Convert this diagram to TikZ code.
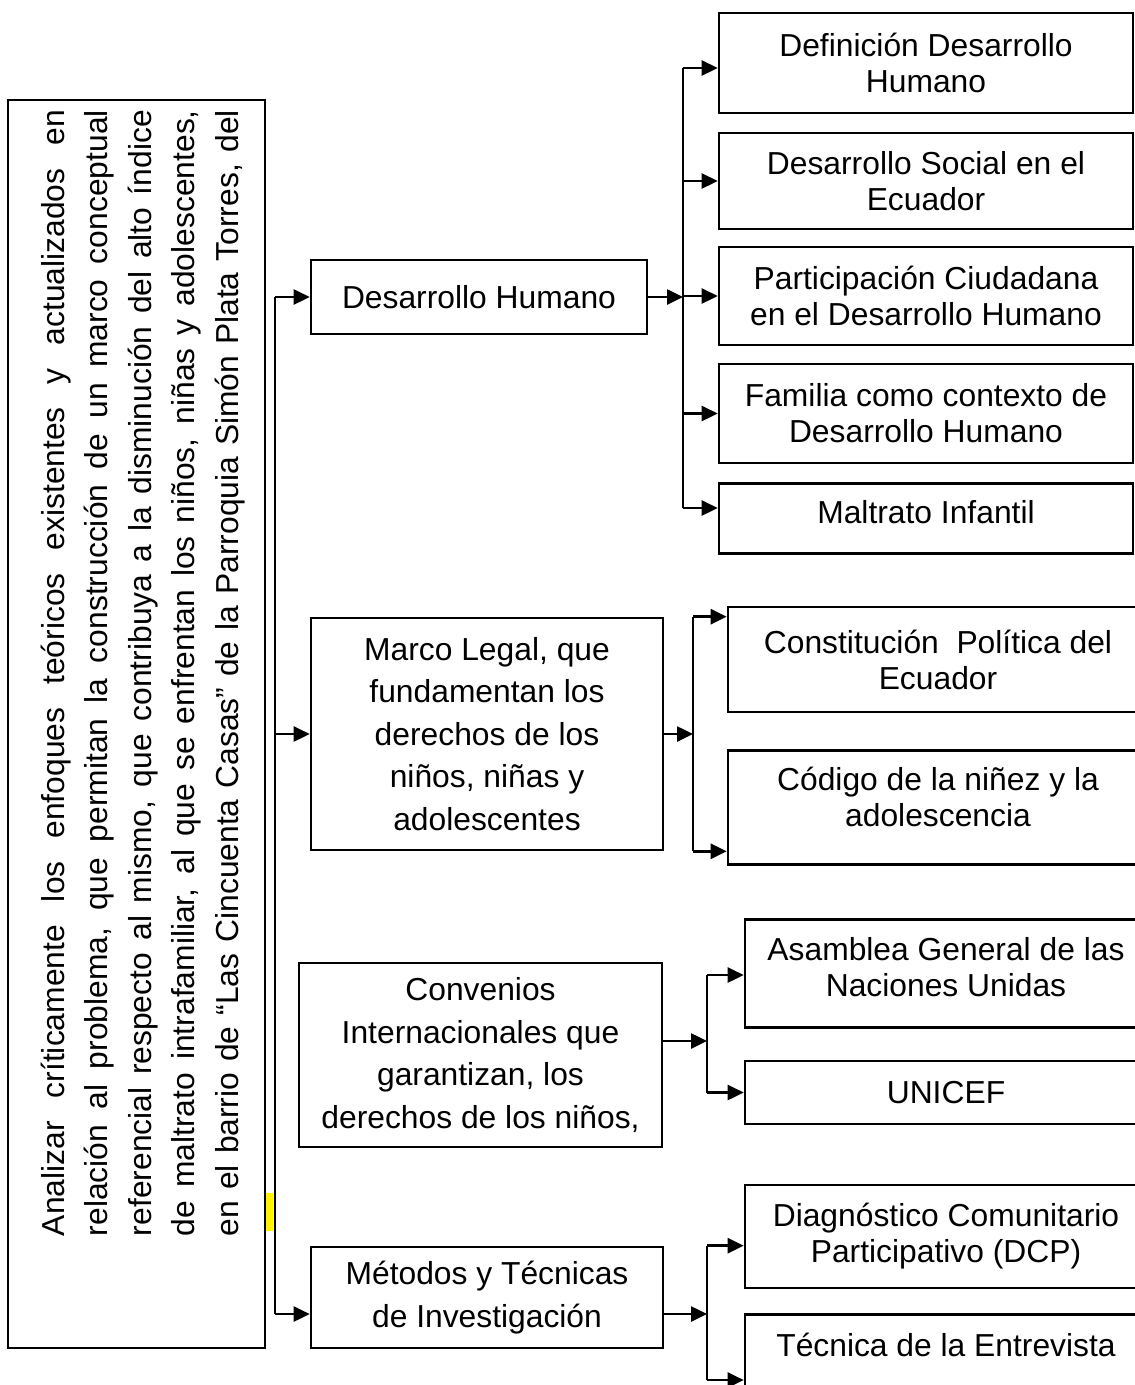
\documentclass[tikz,border=0pt]{standalone}
\usepackage{fontspec}
\setmainfont{Liberation Sans}
\usetikzlibrary{arrows.meta,calc}

\begin{document}
\begin{tikzpicture}[x=1pt, y=-1pt, line width=2.6pt,
    caja/.style={draw, line width=2.6pt, align=center, inner sep=0pt,
        font=\fontsize{31.8}{36}\selectfont},
    medio/.style={caja, font=\fontsize{31.8}{42.5}\selectfont},
    arriba/.style 2 args={anchor=north, text height=#1, text depth=#2},
    flecha/.style={-{Triangle[length=16pt,width=15pt]}}]
    \useasboundingbox (0,0) rectangle (1135,1385);

    % objetivo (texto girado)
    \node[caja, minimum width=257, minimum height=1248] (objetivo) at (136.5,724) {};
    \node[rotate=90, align=left, inner sep=0pt, font=\fontsize{31.8}{43.5}\selectfont] (objtexto) at (143,673)
        {\makebox[1126pt][s]{Analizar críticamente los enfoques teóricos existentes y actualizados en}\\
         \makebox[1126pt][s]{relación al problema, que permitan la construcción de un marco conceptual}\\
         \makebox[1126pt][s]{referencial respecto al mismo, que contribuya a la disminución del alto índice}\\
         \makebox[1126pt][s]{de maltrato intrafamiliar, al que se enfrentan los niños, niñas y adolescentes,}\\
         \makebox[1126pt][s]{en el barrio de “Las Cincuenta Casas” de la Parroquia Simón Plata Torres, del}};
    \fill[yellow] (266,1193) rectangle (273,1231);

    % cajas del medio
    \node[medio, minimum width=336, minimum height=74] (dh) at (479,297) {Desarrollo Humano};
    \node[medio, minimum width=352, minimum height=232] (marco) at (487,734)
        {Marco Legal, que\\fundamentan los\\derechos de los\\niños, niñas y\\adolescentes};
    \node[medio, minimum width=363, minimum height=184] (convenios) at (480.5,1055)
        {Convenios\\Internacionales que\\garantizan, los\\derechos de los niños,};
    \node[medio, minimum width=352, minimum height=101] (metodos) at (487,1297.5)
        {Métodos y Técnicas\\de Investigación};

    % cajas de la derecha
    \node[caja, minimum width=414, minimum height=100] (def) at (926,63) {Definición Desarrollo\\Humano};
    \node[caja, minimum width=414, minimum height=96] (social) at (926,181) {Desarrollo Social en el\\Ecuador};
    \node[caja, minimum width=414, minimum height=98] (particip) at (926,296) {Participación Ciudadana\\en el Desarrollo Humano};
    \node[caja, minimum width=414, minimum height=99] (familia) at (926,413.5) {Familia como contexto de\\Desarrollo Humano};
    \node[caja, minimum width=414, arriba={40.5pt}{29.5pt}] (maltrato) at (926,482) {Maltrato Infantil};

    \node[caja, minimum width=420, minimum height=105] (constitucion) at (938,659.5) {Constitución\ \ Política del\\Ecuador};
    \node[caja, minimum width=420, arriba={76.5pt}{37.5pt}] (codigo) at (938,749) {Código de la niñez y la\\adolescencia};

    \node[caja, minimum width=402, arriba={77.5pt}{30.5pt}] (asamblea) at (946,918) {Asamblea General de las\\Naciones Unidas};
    \node[caja, minimum width=402, minimum height=63] (unicef) at (946,1092.5) {UNICEF};

    \node[caja, minimum width=402, minimum height=103] (diag) at (946,1236.5) {Diagnóstico Comunitario\\Participativo (DCP)};
    \node[caja, minimum width=402, arriba={42pt}{70pt}] (tecnica) at (946,1313) {Técnica de la Entrevista};

    % tronco
    \coordinate (tronco) at (275,297);
    \coordinate (tronco4) at (275,1314);
    \draw (tronco) -- (tronco4);
    \draw[flecha] (tronco) -- (dh.west);
    \draw[flecha] (tronco |- marco.west) -- (marco.west);
    \draw[flecha] (tronco4) -- (tronco4 -| metodos.west);

    % rama 1
    \coordinate (rama1) at (683,297);
    \coordinate (m1) at (683,508);
    \draw[flecha] (dh.east) -- (rama1);
    \draw (rama1 |- 0,68) -- (m1);
    \draw[flecha] (rama1 |- 0,68) -- (def.west |- 0,68);
    \foreach \b in {social,particip,familia}
        \draw[flecha] (rama1 |- \b.west) -- (\b.west);
    \draw[flecha] (m1) -- (m1 -| maltrato.west);

    % rama 2
    \coordinate (rama2) at (693,734);
    \draw[flecha] (marco.east) -- (rama2);
    \draw (rama2 |- marco.north) -- (rama2 |- marco.south);
    \draw[flecha] (rama2 |- marco.north) -- (constitucion.west |- marco.north);
    \draw[flecha] (rama2 |- marco.south) -- (codigo.west |- marco.south);

    % rama 3
    \coordinate (rama3) at (707,1041);
    \draw[flecha] (rama3 -| convenios.east) -- (rama3);
    \draw (rama3 |- 0,975) -- (rama3 |- unicef.west);
    \draw[flecha] (rama3 |- 0,975) -- (asamblea.west |- 0,975);
    \draw[flecha] (rama3 |- unicef.west) -- (unicef.west);

    % rama 4
    \coordinate (rama4) at (707,1314);
    \coordinate (t4b) at (707,1380);
    \draw[flecha] (rama4 -| metodos.east) -- (rama4);
    \draw (rama4 |- metodos.north) -- (t4b);
    \draw[flecha] (rama4 |- metodos.north) -- (diag.west |- metodos.north);
    \draw[flecha] (t4b) -- (t4b -| tecnica.west);
\end{tikzpicture}
\end{document}
